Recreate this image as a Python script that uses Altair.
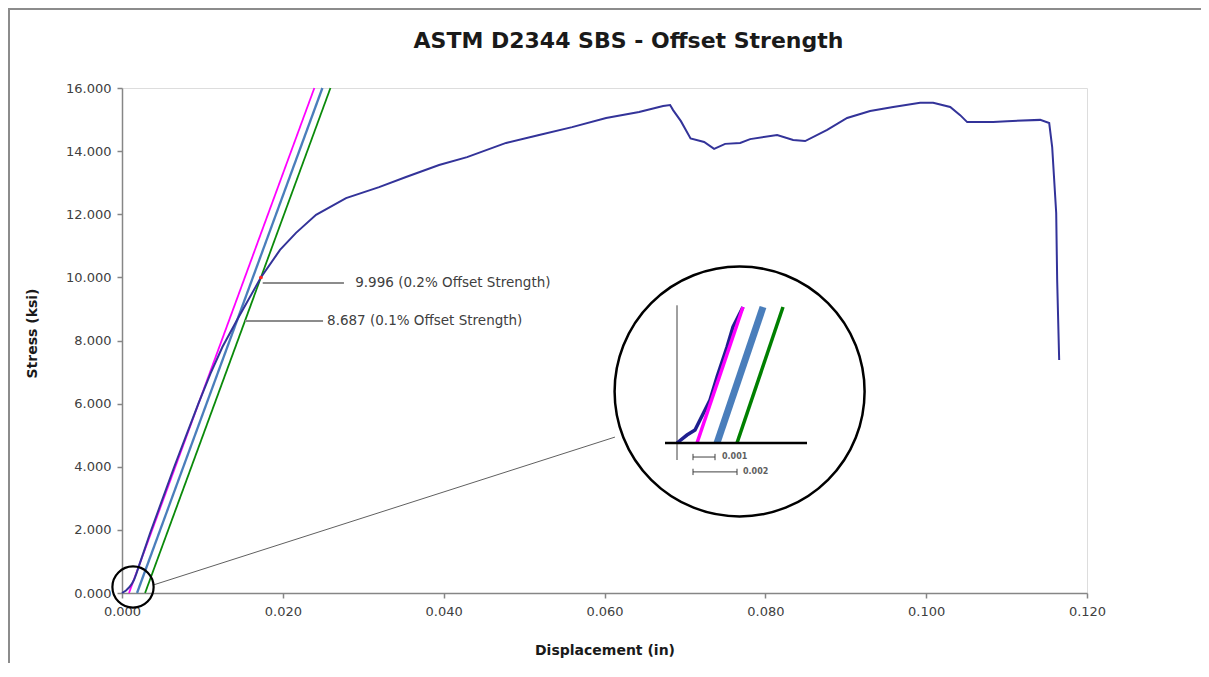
import altair as alt
import pandas as pd

# ---------------- main load-displacement curve ----------------
curve_x = [0.0, 0.0005, 0.0009, 0.0012, 0.0015, 0.0018, 0.0021, 0.0035, 0.005, 0.0065,
           0.008, 0.0095, 0.011, 0.0125, 0.01439, 0.01727, 0.01965, 0.02164, 0.02413,
           0.02786, 0.03197, 0.03532, 0.03943, 0.04291, 0.04776, 0.05187, 0.05597,
           0.0602, 0.0643, 0.06729, 0.06816, 0.06853, 0.0695, 0.0707, 0.07239, 0.07363,
           0.0750, 0.07687, 0.07811, 0.08147, 0.08346, 0.08495, 0.08769, 0.09017,
           0.09303, 0.0959, 0.09925, 0.10087, 0.10299, 0.10423, 0.1051, 0.10833,
           0.11007, 0.11418, 0.1153, 0.11567, 0.11617, 0.11629, 0.11654]
curve_y = [0.0, 0.08, 0.18, 0.28, 0.42, 0.62, 0.85, 1.9, 2.95, 4.0,
           5.0, 6.0, 6.95, 7.8, 8.687, 9.996, 10.87, 11.41, 11.98,
           12.51, 12.86, 13.18, 13.56, 13.81, 14.26, 14.51, 14.76,
           15.05, 15.24, 15.43, 15.46, 15.30, 14.95, 14.40, 14.29, 14.07,
           14.23, 14.26, 14.38, 14.51, 14.35, 14.32, 14.67, 15.05,
           15.27, 15.40, 15.53, 15.53, 15.40, 15.14, 14.92, 14.92,
           14.95, 14.99, 14.89, 14.13, 12.04, 9.92, 7.38]

# ---------------- modulus / offset lines ----------------
line_names = ["Modulus", "0.1% Offset", "0.2% Offset"]
line_x0 = [0.00087, 0.00187, 0.00287]
line_y0 = [0.0, 0.0, 0.0]
line_x1 = [0.02392, 0.02492, 0.02592]
line_y1 = [16.0, 16.0, 16.0]
line_colors = ["#FF00FF", "#4A7EBB", "#0A8A0A"]
line_widths = [1.8, 2.3, 1.8]

# ---------------- annotations ----------------
point_x = [0.01727]
point_y = [9.996]
ann_text = ["9.996 (0.2% Offset Strength)", "8.687 (0.1% Offset Strength)"]
ann_x0 = [0.0175, 0.0153]
ann_x1 = [0.0276, 0.0250]
ann_y = [9.82, 8.62]
ann_tx = [0.0290, 0.0255]

# magnifier circles and connector
circ_x = [0.00137, 0.0768]
circ_y = [0.19, 6.385]
circ_size = [1700, 62500]
circ_width = [2.2, 2.5]
conn_x = [0.00385, 0.0613]
conn_y = [0.25, 4.94]

# ---------------- inset (magnified origin region) ----------------
inset_curve_x = [0.0, 0.0005, 0.0009, 0.00115, 0.00165, 0.002, 0.0025, 0.0028, 0.0033]
inset_curve_y = [0.0, 0.094, 0.153, 0.27, 0.506, 0.776, 1.13, 1.365, 1.6]
inset_line_x0 = [0.001, 0.002, 0.003]
inset_line_x1 = [0.0033, 0.0043, 0.0053]
inset_line_y0 = [0.0, 0.0, 0.0]
inset_line_y1 = [1.6, 1.6, 1.6]
inset_line_colors = ["#FF00FF", "#4A7EBB", "#008000"]
inset_line_widths = [3.5, 7, 3.5]
bar_labels = ["0.001", "0.002"]
bar_x0 = [0.0008, 0.0008]
bar_x1 = [0.0019, 0.0030]
bar_y = [-0.165, -0.34]
bar_tx = [0.00225, 0.0033]

FONT = "DejaVu Sans"

# ---------------- data frames ----------------
df_curve = pd.DataFrame({"x": curve_x, "y": curve_y, "i": range(len(curve_x))})
df_lines = pd.DataFrame({"name": line_names, "x0": line_x0, "y0": line_y0,
                         "x1": line_x1, "y1": line_y1, "c": line_colors, "w": line_widths})
df_point = pd.DataFrame({"x": point_x, "y": point_y})
df_ann = pd.DataFrame({"text": ann_text, "x0": ann_x0, "x1": ann_x1, "y": ann_y, "tx": ann_tx})
df_circ = pd.DataFrame({"x": circ_x, "y": circ_y, "s": circ_size, "w": circ_width})
df_conn = pd.DataFrame({"x": conn_x, "y": conn_y, "i": [0, 1]})

df_icurve = pd.DataFrame({"x": inset_curve_x, "y": inset_curve_y, "i": range(len(inset_curve_x))})
df_ilines = pd.DataFrame({"name": line_names, "x0": inset_line_x0, "x1": inset_line_x1,
                          "y0": inset_line_y0, "y1": inset_line_y1,
                          "c": inset_line_colors, "w": inset_line_widths})
df_bars = pd.DataFrame({"label": bar_labels, "x0": bar_x0, "x1": bar_x1, "y": bar_y, "tx": bar_tx})
df_bar_ends = pd.DataFrame({"x": bar_x0 + bar_x1, "y": bar_y + bar_y})
df_iaxis_v = pd.DataFrame({"x": [0.0], "y0": [-0.2], "y1": [1.62]})
df_iaxis_h = pd.DataFrame({"x0": [-0.0006], "x1": [0.0065], "y": [0.0]})

# ---------------- main scales / axes ----------------
xs = alt.Scale(domain=[0, 0.12], nice=False, zero=False)
ys = alt.Scale(domain=[0, 16], nice=False, zero=False)

x_axis = alt.Axis(values=[0, 0.02, 0.04, 0.06, 0.08, 0.10, 0.12], format=".3f",
                  title="Displacement (in)", grid=False, labelFlush=False,
                  domainColor="#868686", domainWidth=1.5, tickColor="#868686",
                  tickWidth=1.5, tickSize=5, labelFont=FONT, labelFontSize=13,
                  labelColor="#404040", labelPadding=7, titleFont=FONT,
                  titleFontSize=14, titleFontWeight="bold", titleColor="#1a1a1a",
                  titleY=57, titleBaseline="middle")
y_axis = alt.Axis(values=[0, 2, 4, 6, 8, 10, 12, 14, 16], format=".3f",
                  title="Stress (ksi)", grid=False, labelFlush=False,
                  domainColor="#868686", domainWidth=1.5, tickColor="#868686",
                  tickWidth=1.5, tickSize=5, labelFont=FONT, labelFontSize=13,
                  labelColor="#404040", labelPadding=6, titleFont=FONT,
                  titleFontSize=14, titleFontWeight="bold", titleColor="#1a1a1a",
                  titleX=-90, titleY=245, titleAngle=-90, titleAlign="center",
                  titleBaseline="middle")

lines = alt.Chart(df_lines).mark_rule(strokeCap="butt").encode(
    x=alt.X("x0:Q", scale=xs, axis=x_axis),
    y=alt.Y("y0:Q", scale=ys, axis=y_axis),
    x2="x1:Q", y2="y1:Q",
    color=alt.Color("c:N", scale=None, legend=None),
    strokeWidth=alt.StrokeWidth("w:Q", scale=None, legend=None),
)

curve = alt.Chart(df_curve).mark_line(color="#333399", strokeWidth=2).encode(
    x=alt.X("x:Q", scale=xs), y=alt.Y("y:Q", scale=ys), order="i:Q")

pt = alt.Chart(df_point).mark_point(filled=True, color="#FF2020", size=14, opacity=1).encode(
    x=alt.X("x:Q", scale=xs), y=alt.Y("y:Q", scale=ys))

leaders = alt.Chart(df_ann).mark_rule(color="#8C8C8C", strokeWidth=2).encode(
    x=alt.X("x0:Q", scale=xs), x2="x1:Q", y=alt.Y("y:Q", scale=ys))

ann = alt.Chart(df_ann).mark_text(align="left", baseline="middle", font=FONT,
                                  fontSize=13.5, color="#404040").encode(
    x=alt.X("tx:Q", scale=xs), y=alt.Y("y:Q", scale=ys), text="text:N")

circles = alt.Chart(df_circ).mark_point(shape="circle", filled=False, color="black",
                                        opacity=1).encode(
    x=alt.X("x:Q", scale=xs), y=alt.Y("y:Q", scale=ys),
    size=alt.Size("s:Q", scale=None, legend=None),
    strokeWidth=alt.StrokeWidth("w:Q", scale=None, legend=None))

conn = alt.Chart(df_conn).mark_line(color="#606060", strokeWidth=1).encode(
    x=alt.X("x:Q", scale=xs), y=alt.Y("y:Q", scale=ys), order="i:Q")

# frame of the chart area (top and left edges visible in the reference)
border_top = alt.Chart(df_point).mark_rule(color="#8C8C8C", strokeWidth=2).encode(
    x=alt.value(-114), x2=alt.value(1079), y=alt.value(-79))
border_left = alt.Chart(df_point).mark_rule(color="#8C8C8C", strokeWidth=2).encode(
    x=alt.value(-113), y=alt.value(-80), y2=alt.value(600))

main = alt.layer(lines, curve, pt, leaders, ann, conn, circles, border_top, border_left)

# ---------------- inset layer with its own magnified scales ----------------
ixs = alt.Scale(domain=[-0.02775, 0.0205], nice=False, zero=False)
iys = alt.Scale(domain=[-1.7647, 4.1765], nice=False, zero=False)

i_axis_v = alt.Chart(df_iaxis_v).mark_rule(color="#404040", strokeWidth=1).encode(
    x=alt.X("x:Q", scale=ixs, axis=None), y=alt.Y("y0:Q", scale=iys, axis=None), y2="y1:Q")
i_axis_h = alt.Chart(df_iaxis_h).mark_rule(color="black", strokeWidth=2.5).encode(
    x=alt.X("x0:Q", scale=ixs, axis=None), x2="x1:Q", y=alt.Y("y:Q", scale=iys, axis=None))
i_curve = alt.Chart(df_icurve).mark_line(color="#1F1F8F", strokeWidth=3.5).encode(
    x=alt.X("x:Q", scale=ixs, axis=None), y=alt.Y("y:Q", scale=iys, axis=None), order="i:Q")
i_lines = alt.Chart(df_ilines).mark_rule(strokeCap="butt").encode(
    x=alt.X("x0:Q", scale=ixs, axis=None), y=alt.Y("y0:Q", scale=iys, axis=None),
    x2="x1:Q", y2="y1:Q",
    color=alt.Color("c:N", scale=None, legend=None),
    strokeWidth=alt.StrokeWidth("w:Q", scale=None, legend=None))
i_bars = alt.Chart(df_bars).mark_rule(color="#404040", strokeWidth=1).encode(
    x=alt.X("x0:Q", scale=ixs, axis=None), x2="x1:Q", y=alt.Y("y:Q", scale=iys, axis=None))
i_bar_ends = alt.Chart(df_bar_ends).mark_point(shape="stroke", angle=90, size=40,
                                               color="#404040", strokeWidth=1,
                                               opacity=1).encode(
    x=alt.X("x:Q", scale=ixs, axis=None), y=alt.Y("y:Q", scale=iys, axis=None))
i_text = alt.Chart(df_bars).mark_text(align="left", baseline="middle", font=FONT,
                                      fontSize=8, fontWeight="bold",
                                      color="#606060").encode(
    x=alt.X("tx:Q", scale=ixs, axis=None), y=alt.Y("y:Q", scale=iys, axis=None),
    text="label:N")

inset = alt.layer(i_axis_v, i_curve, i_lines, i_axis_h, i_bars, i_bar_ends, i_text)

chart = alt.layer(main, inset).resolve_scale(
    x="independent", y="independent"
).properties(
    width=965, height=505,
    padding={"left": 114, "top": 80, "right": 114, "bottom": 70},
    autosize=alt.AutoSizeParams(type="none"),
    title=alt.Title("ASTM D2344 SBS - Offset Strength", font=FONT, fontSize=22,
                    fontWeight="bold", color="#1a1a1a", anchor="middle", dx=24,
                    offset=-63, baseline="alphabetic"),
).configure_view(stroke="transparent").configure(background="white")

chart.save("out.html", embed_options={"renderer": "svg", "actions": False})
